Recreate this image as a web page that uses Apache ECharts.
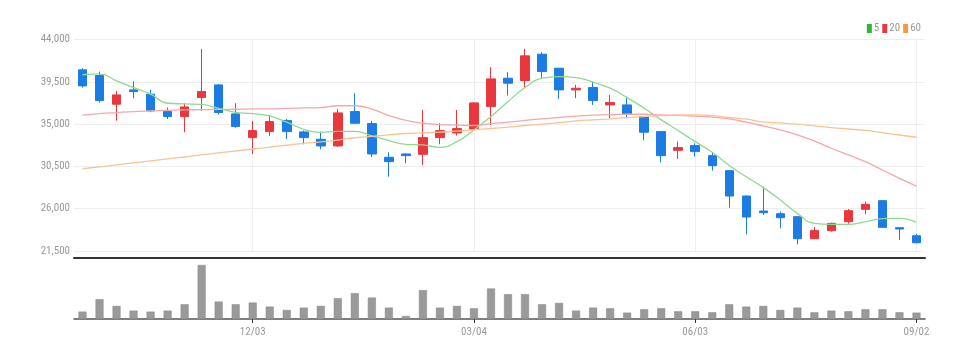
<!DOCTYPE html>
<html><head><meta charset="utf-8">
<script src="https://cdn.jsdelivr.net/npm/echarts@6/dist/echarts.min.js"></script>
<style>html,body{margin:0;padding:0;background:#fff}#c{width:973px;height:358px}</style>
</head><body><div id="c"></div>
<script>
const dates = ['09/24','10/01','10/08','10/15','10/22','10/29','11/05','11/12','11/19','11/26',
  '12/03','12/10','12/17','12/24','12/31','01/07','01/14','01/21','01/28','02/04',
  '02/11','02/18','02/25','03/04','03/11','03/18','03/25','04/01','04/08','04/15',
  '04/22','04/29','05/06','05/13','05/20','05/27','06/03','06/10','06/17','06/24',
  '07/01','07/08','07/15','07/22','07/29','08/05','08/12','08/19','08/26','09/02'];
const opens  = [40770,40166,37113,38640,38178,36332,35800,37823,39172,36084,
  33563,34202,35374,34167,33386,32676,36332,35054,31469,31824,
  31788,33563,34060,34451,36865,39882,39634,42438,40947,38640,
  38888,37042,37042,35800,34202,32214,32711,31646,30049,27350,
  25753,25469,25150,22807,23659,24617,25931,26854,23978,23126];
const closes = [39066,37504,38107,38462,36403,35800,36829,38462,36225,34735,
  34308,35267,34202,33563,32676,36190,35090,31824,31007,31646,
  33563,34308,34522,37255,39811,39350,42261,40592,38640,38817,
  37504,37290,36048,34131,31646,32498,32072,30581,27350,25114,
  25575,25043,22807,23694,24440,25789,26463,24014,23836,22380];
const lows   = [38888,37290,35374,37752,36261,35551,34131,36403,36048,34628,
  31824,33741,33421,32853,32321,32569,35050,31504,29410,30830,
  30652,32853,33776,34308,34912,38036,38888,39882,37681,37752,
  37042,35622,35622,33279,30936,31291,31540,30049,26108,23268,
  25327,23907,22203,22771,23552,24404,25398,23978,22665,22309];
const highs  = [40947,40592,38533,39527,38640,36758,37220,43006,39243,37220,
  35338,35871,35551,34308,34202,36616,38285,35338,32001,31900,
  36510,35090,36510,37326,41054,40521,43006,42651,40947,39172,
  39527,38107,37930,35850,34250,33137,32960,32001,30100,27400,
  28345,25682,25200,24049,24511,25966,26747,26925,24000,23304];
const ma5  = [40250,40350,39600,38890,38180,37220,37150,37100,36680,36250,
  36120,35870,35200,34450,34130,34230,34230,33750,33250,32850,
  32780,32530,33140,34380,35800,37400,38890,39880,40060,39950,
  39460,38820,37820,36690,35450,34310,33140,32000,30600,29400,
  28240,26930,25500,24440,24330,24330,24620,24940,24970,24550];
const ma20 = [35950,36120,36230,36330,36400,36460,36510,36540,36560,36580,
  36616,36620,36680,36720,36760,36950,36950,36600,35900,35400,
  35100,34950,34900,34850,35050,35200,35400,35550,35700,35850,
  35950,36000,36050,36050,35980,35940,35850,35750,35550,35200,
  34800,34380,33850,33200,32430,31720,31000,30120,29230,28400];
const ma60 = [30250,30460,30670,30880,31090,31300,31500,31720,31930,32140,
  32350,32550,32750,32950,33100,33300,33550,33700,33850,34000,
  34050,34150,34250,34400,34530,34680,34850,35000,35150,35350,
  35450,35560,35690,35800,35900,35960,35980,35900,35700,35520,
  35230,35120,34990,34820,34630,34480,34330,34080,33840,33600];
const volumes = [22,59,39,25,22,25,44,161,52,44,
  49,37,27,34,39,62,77,64,34,9,
  86,34,39,32,91,74,74,44,48,25,
  34,32,19,29,32,23,23,20,44,37,
  39,27,34,20,25,23,29,29,20,19].map(v=>v*1000);
const yTicks = [21500,26000,30500,35000,39500,44000];
const labelDates = ['12/03','03/04','06/03','09/02'];

const FONT = "'Liberation Sans Narrow','Roboto Condensed','Roboto',sans-serif";
const showIdx = (i) => labelDates.indexOf(dates[i]) >= 0;
const candleData = opens.map((o,i)=>[o, closes[i], lows[i], highs[i]]);

const chart = echarts.init(document.getElementById('c'), null, {renderer:'canvas'});
chart.setOption({
  animation:false,
  backgroundColor:'#fff',
  legend:{
    right:47, top:18, itemWidth:5, itemHeight:9, itemGap:3, icon:'rect',
    textStyle:{color:'#999', fontSize:11, fontFamily:FONT, padding:[0,0,0,-3]},
    data:['5','20','60']
  },
  grid:[
    {left:74, right:48, top:39.5, bottom:107},
    {left:74, right:48, top:265, bottom:39}
  ],
  xAxis:[
    {type:'category', gridIndex:0, data:dates, boundaryGap:true, offset:7,
     axisLine:{lineStyle:{color:'#333', width:2}}, axisTick:{show:false},
     axisLabel:{show:false}, splitLine:{show:false}},
    {type:'category', gridIndex:1, data:dates, boundaryGap:true,
     axisLine:{lineStyle:{color:'#555', width:1.5}},
     axisTick:{show:true, interval:(i)=>showIdx(i), alignWithLabel:true, length:4, lineStyle:{color:'#333'}},
     axisLabel:{interval:(i)=>showIdx(i), color:'#999', fontSize:11, fontFamily:FONT, margin:8},
     splitLine:{show:false}}
  ],
  yAxis:[
    {type:'value', gridIndex:0, min:yTicks[0], max:yTicks[yTicks.length-1], interval:4500,
     axisLine:{show:false}, axisTick:{show:false},
     axisLabel:{color:'#999', fontSize:11, fontFamily:FONT, margin:4,
       formatter:(v)=>v.toLocaleString('en-US')},
     splitLine:{lineStyle:{color:'#eee'}}},
    {type:'value', gridIndex:1, min:0, max:'dataMax',
     axisLine:{show:false}, axisTick:{show:false}, axisLabel:{show:false}, splitLine:{show:false}}
  ],
  series:[
    {name:'grid', type:'line', xAxisIndex:0, yAxisIndex:0, data:[], z:0, silent:true,
     markLine:{silent:true, z:0, symbol:['none','none'], label:{show:false}, animation:false,
       lineStyle:{color:'#eee', type:'solid', width:1},
       data: labelDates.map(d=>({xAxis:d}))}},
    {name:'K', type:'candlestick', xAxisIndex:0, yAxisIndex:0, data:candleData, barWidth:9, z:3,
     itemStyle:{color:'#e8383d', color0:'#1b7ce4', borderColor:'#e8383d', borderColor0:'#1b7ce4', borderWidth:1}},
    {name:'5', type:'line', xAxisIndex:0, yAxisIndex:0, data:ma5, smooth:true, showSymbol:false, z:4,
     itemStyle:{color:'#2db52d'}, lineStyle:{color:'#8fd98f', width:1.3}},
    {name:'20', type:'line', xAxisIndex:0, yAxisIndex:0, data:ma20, smooth:true, showSymbol:false, z:4,
     itemStyle:{color:'#e8383d'}, lineStyle:{color:'#f5a8ac', width:1.3}},
    {name:'60', type:'line', xAxisIndex:0, yAxisIndex:0, data:ma60, smooth:true, showSymbol:false, z:4,
     itemStyle:{color:'#f79a3e'}, lineStyle:{color:'#f9c394', width:1.3}},
    {name:'V', type:'bar', xAxisIndex:1, yAxisIndex:1, data:volumes, barWidth:8,
     itemStyle:{color:'#9a9a9a', borderColor:'#888', borderWidth:0.5}}
  ]
});
</script></body></html>
